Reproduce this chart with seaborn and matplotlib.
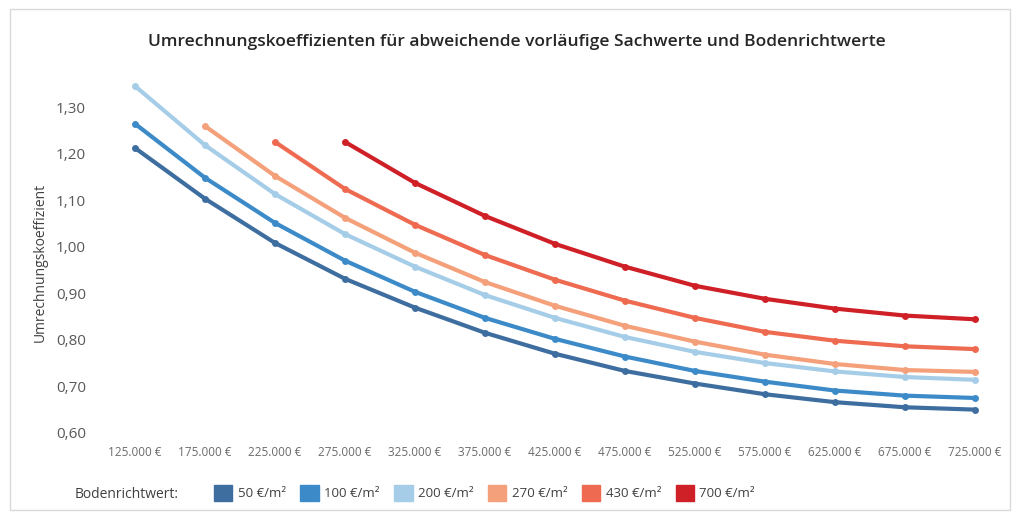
import numpy as np
import pandas as pd
import matplotlib.pyplot as plt
import matplotlib.patches as mpatches
import seaborn as sns

sachwerte = ["125.000 €", "175.000 €", "225.000 €", "275.000 €", "325.000 €",
             "375.000 €", "425.000 €", "475.000 €", "525.000 €", "575.000 €",
             "625.000 €", "675.000 €", "725.000 €"]
series_names = ["50 €/m²", "100 €/m²", "200 €/m²", "270 €/m²", "430 €/m²", "700 €/m²"]
nan = np.nan
v50 = [1.212, 1.103, 1.008, 0.931, 0.869, 0.815, 0.770, 0.733, 0.706, 0.683, 0.666, 0.655, 0.650]
v100 = [1.264, 1.148, 1.051, 0.970, 0.903, 0.847, 0.802, 0.764, 0.733, 0.710, 0.691, 0.680, 0.675]
v200 = [1.345, 1.218, 1.113, 1.027, 0.957, 0.896, 0.847, 0.806, 0.774, 0.750, 0.732, 0.720, 0.714]
v270 = [nan, 1.259, 1.152, 1.062, 0.987, 0.924, 0.873, 0.830, 0.796, 0.768, 0.748, 0.735, 0.731]
v430 = [nan, nan, 1.225, 1.124, 1.047, 0.982, 0.929, 0.884, 0.847, 0.817, 0.798, 0.786, 0.780]
v700 = [nan, nan, nan, 1.225, 1.137, 1.066, 1.006, 0.957, 0.916, 0.888, 0.867, 0.852, 0.844]
colors = ["#3e6ea0", "#3c8bc8", "#a6cde8", "#f4a07a", "#ee6a50", "#d02027"]

rows = []
for name, vals in zip(series_names, [v50, v100, v200, v270, v430, v700]):
    for x, v in zip(sachwerte, vals):
        if not np.isnan(v):
            rows.append({"Sachwert": x, "Bodenrichtwert": name, "Koeffizient": v})
df = pd.DataFrame(rows)

sns.set_theme(style="white")
plt.rcParams["font.family"] = ["Open Sans", "DejaVu Sans"]

fig = plt.figure(figsize=(10.17, 5.18), dpi=100)
ax = fig.add_axes([100 / 1017, 1 - 445 / 518, 910 / 1017, 365 / 518])

sns.lineplot(data=df, x="Sachwert", y="Koeffizient", hue="Bodenrichtwert",
             hue_order=series_names, palette=colors, marker="o", markersize=5,
             markeredgewidth=0, linewidth=3, sort=False, legend=False, ax=ax)

ax.set_xlim(-0.5, len(sachwerte) - 0.5)
ax.set_ylim(0.574, 1.358)
ax.set_yticks([0.6, 0.7, 0.8, 0.9, 1.0, 1.1, 1.2, 1.3])
ax.set_yticklabels([f"{t:.2f}".replace(".", ",") for t in ax.get_yticks()],
                   color="#595959", fontsize=11)
ax.set_xticks(range(len(sachwerte)))
ax.set_xticklabels(sachwerte, color="#6b6b6b", fontsize=8.5)
ax.tick_params(axis="x", pad=1, length=0)
ax.tick_params(axis="y", pad=10, length=0)
for s in ax.spines.values():
    s.set_visible(False)
ax.set_xlabel("")
ax.set_ylabel("Umrechnungskoeffizient", color="#404040", fontsize=10, labelpad=6)

fig.text(0.508, 1 - 42 / 518, "Umrechnungskoeffizienten für abweichende vorläufige Sachwerte und Bodenrichtwerte",
         ha="center", va="center", fontsize=12.5, fontweight="semibold", color="#262626")

# legend
handles = [mpatches.Patch(color=c) for c in colors]
fig.text(75 / 1017, 1 - 494 / 518, "Bodenrichtwert:", ha="left", va="center",
         fontsize=10, color="#404040")
leg = fig.legend(handles, series_names, loc="center left",
                 bbox_to_anchor=(202 / 1017, 1 - 493 / 518), ncol=6, frameon=False,
                 fontsize=9.5, handlelength=1.4, handleheight=1.4, handletextpad=0.4,
                 columnspacing=1.1)
for t in leg.get_texts():
    t.set_color("#404040")

fig.patches.append(mpatches.Rectangle((10 / 1017, 1 - 510 / 518), 1000 / 1017, 501 / 518,
                                      transform=fig.transFigure, fill=False,
                                      edgecolor="#d9d9d9", linewidth=1))

fig.savefig("out.png", dpi=100)
